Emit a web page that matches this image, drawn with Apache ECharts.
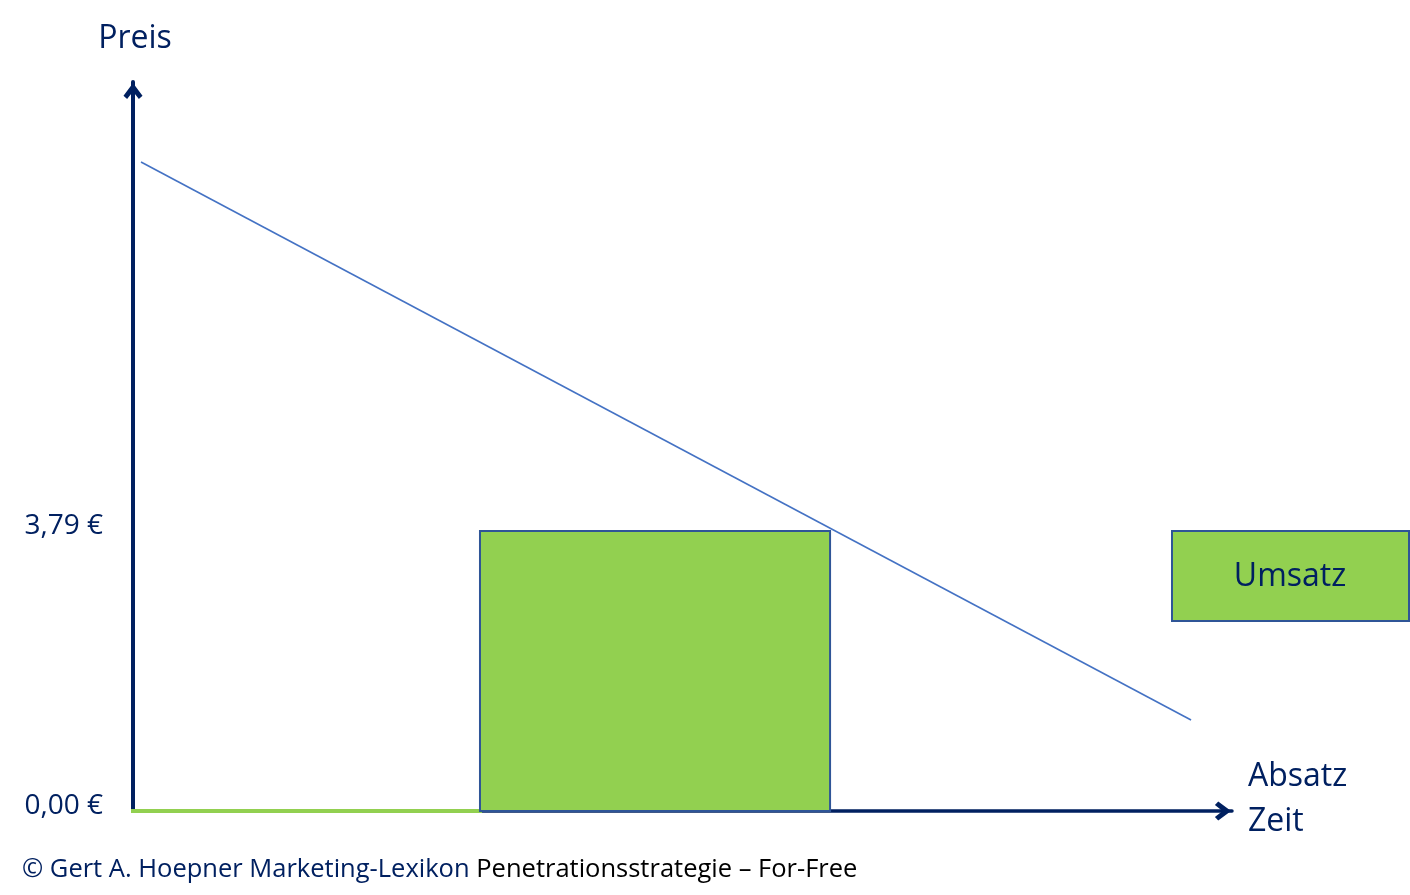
<!DOCTYPE html>
<html>
<head>
<meta charset="utf-8">
<script src="https://cdn.jsdelivr.net/npm/echarts@6/dist/echarts.min.js"></script>
<style>
html,body{margin:0;padding:0;background:#fff;}
#c{width:1410px;height:895px;}
</style>
</head>
<body>
<div id="c"></div>
<script>
// ---- data ----
const priceTicks = [0, 3.79];                 // labelled prices on the y axis
const demandLine = [[0.08, 8.785], [10.59, 1.232]]; // Preis-Absatz line
const revenueRect = [[3.473, 6.977, 3.79]];   // [Absatz from, Absatz to, Preis]
const zeroSegment = [[0, 0], [3.473, 0]];     // revenue at price 0
const legendLabel = 'Umsatz';
const yName = 'Preis';
const xNameLines = ['Absatz', 'Zeit'];
const footerBlue = '© Gert A. Hoepner Marketing-Lexikon';
const footerBlack = 'Penetrationsstrategie – For-Free';

const NAVY = '#002060';
const GREEN = '#92D050';
const BORDER = '#2F5597';
const LINE = '#4472C4';
const FONT = '"Open Sans", "Noto Sans", sans-serif';
const chevron = 'path://M10 0 L20 13.5 L16.2 17 L10 9 L3.8 17 L0 13.5 Z';

const chart = echarts.init(document.getElementById('c'));
chart.setOption({
  animation: false,
  backgroundColor: '#fff',
  grid: {left: 133, right: 178, top: 82, bottom: 84},
  xAxis: {
    type: 'value', min: 0, max: 11,
    name: xNameLines.map(s => '{n|' + s + '}').join('\n') + '\n{s| }',
    nameLocation: 'end', nameGap: 16,
    nameTextStyle: {
      color: NAVY, fontSize: 32, fontFamily: FONT, align: 'left', verticalAlign: 'middle',
      rich: {
        n: {color: NAVY, fontSize: 32, fontFamily: FONT, lineHeight: 45},
        s: {fontSize: 4, lineHeight: 23}
      }
    },
    axisLine: {show: true, lineStyle: {color: NAVY, width: 3.5}, symbol: ['none', chevron], symbolSize: [19, 18], symbolOffset: [0, -9]},
    axisTick: {show: false}, axisLabel: {show: false}, splitLine: {show: false}
  },
  yAxis: {
    type: 'value', min: 0, max: 9.868,
    name: yName, nameLocation: 'end', nameGap: 27,
    nameTextStyle: {color: NAVY, fontSize: 32, fontFamily: FONT, align: 'center', padding: [0, 0, 0, 4]},
    axisLine: {show: true, lineStyle: {color: NAVY, width: 4}, symbol: ['none', chevron], symbolSize: [19, 18], symbolOffset: [0, -9]},
    axisTick: {show: false},
    axisLabel: {
      show: true, customValues: priceTicks, margin: 30,
      color: NAVY, fontSize: 28, fontFamily: FONT, verticalAlign: 'bottom', lineHeight: 9,
      formatter: v => v.toFixed(2).replace('.', ',') + ' €'
    },
    splitLine: {show: false}
  },
  series: [
    {
      type: 'line', data: zeroSegment, symbol: 'none', clip: false, z: 3,
      lineStyle: {color: GREEN, width: 4, cap: 'square'}
    },
    {
      type: 'custom', data: revenueRect, clip: false, z: 4,
      encode: {x: [0, 1], y: 2},
      renderItem: function (params, api) {
        const p0 = api.coord([api.value(0), 0]);
        const p1 = api.coord([api.value(1), api.value(2)]);
        return {
          type: 'rect',
          shape: {x: p0[0], y: p1[1], width: p1[0] - p0[0], height: p0[1] - p1[1]},
          style: {fill: GREEN, stroke: BORDER, lineWidth: 2}
        };
      }
    },
    {
      type: 'line', data: demandLine, symbol: 'none', clip: false, z: 5,
      lineStyle: {color: LINE, width: 1.6}
    }
  ],
  graphic: [
    {
      type: 'group', left: 1171, top: 530,
      children: [
        {type: 'rect', shape: {x: 0, y: 0, width: 237, height: 90}, style: {fill: GREEN, stroke: BORDER, lineWidth: 2}},
        {type: 'text', x: 118, y: 46, style: {text: legendLabel, fill: NAVY, font: '32px ' + FONT, align: 'center', verticalAlign: 'middle'}}
      ]
    },
    {
      type: 'text', left: 22, top: 857,
      style: {
        text: '{a|' + footerBlue + '}  {b|' + footerBlack + '}',
        rich: {
          a: {fill: NAVY, fontSize: 25.5, fontFamily: FONT},
          b: {fill: '#000', fontSize: 25.5, fontFamily: FONT}
        }
      }
    }
  ]
});
</script>
</body>
</html>
